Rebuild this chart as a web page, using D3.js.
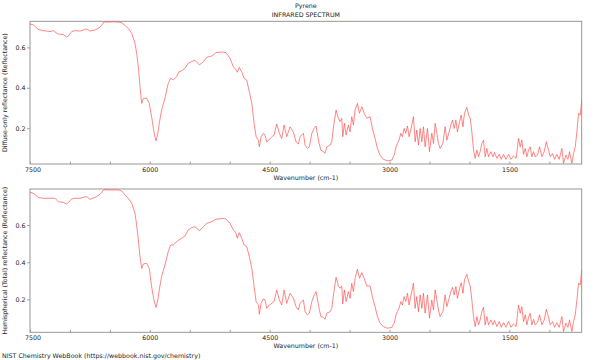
<!DOCTYPE html>
<html>
<head>
<meta charset="utf-8">
<script src="https://cdn.jsdelivr.net/npm/d3@7/dist/d3.min.js"></script>
<style>
  html, body { margin: 0; padding: 0; background: #fff; }
  svg { display: block; }
  text { font-family: "DejaVu Sans", sans-serif; fill: #222; }
</style>
</head>
<body>
<svg id="chart" width="600" height="360"></svg>
<script>
// ---- data ----
const title = "Pyrene";
const subtitle = "INFRARED SPECTRUM";
const xLabel = "Wavenumber (cm-1)";
const yLabelTop = "Diffuse-only reflectance (Reflectance)";
const yLabelBottom = "Hemispherical (Total) reflectance (Reflectance)";
const footer = "NIST Chemistry WebBook (https://webbook.nist.gov/chemistry)";

const xTickValues = [7500, 7000, 6500, 6000, 5500, 5000, 4500, 4000, 3500, 3000, 2500, 2000, 1500, 1000];
const xTickLabels = [7500, 6000, 4500, 3000, 1500];
const yTickLabels = [0.2, 0.4, 0.6];
const xDomain = [7500, 595];
const yDomainTop = [0.023, 0.729];
const yDomainBottom = [0.023, 0.794];

const wavenumber = [
7500,7458,7396,7333,7250,7208,7187,7146,7083,7041,7020,6978,6937,6874,6833,6790,6749,6686,6624,6574,
6520,6457,6395,6352,6311,6270,6227,6186,6165,6144,6123,6102,6081,6040,6007,5978,5949,5924,5903,5882,
5853,5811,5770,5740,5707,5665,5636,5603,5561,5520,5478,5436,5380,5330,5288,5226,5172,5101,5047,4997,
4955,4921,4905,4880,4850,4821,4787,4755,4724,4695,4670,4642,4629,4608,4579,4558,4537,4504,4474,4445,
4412,4379,4349,4320,4287,4245,4203,4170,4141,4120,4078,4057,4028,4003,3973,3944,3919,3890,3860,3828,
3807,3786,3744,3723,3702,3669,3640,3619,3598,3586,3565,3544,3515,3494,3473,3452,3431,3402,3377,3347,
3318,3285,3244,3210,3181,3152,3119,3077,3027,2972,2943,2918,2902,2881,2859,2839,2818,2797,2776,2755,
2730,2701,2680,2659,2638,2617,2596,2575,2555,2525,2500,2471,2450,2429,2408,2388,2367,2333,2304,2283,
2254,2233,2212,2191,2170,2150,2128,2103,2082,2062,2032,2011,1990,1970,1949,1928,1907,1886,1866,1845,
1824,1803,1782,1761,1731,1706,1686,1656,1627,1602,1573,1544,1510,1481,1448,1415,1386,1365,1344,1323,
1302,1281,1260,1240,1219,1198,1177,1148,1123,1093,1064,1039,1010,989,960,935,906,877,843,823,
793,768,747,718,697,676,655,634,613,595
];

const diffuseReflectance = [
0.716,0.711,0.689,0.683,0.678,0.683,0.676,0.666,0.663,0.651,0.656,0.678,0.683,0.681,0.686,0.691,0.681,0.686,0.699,0.726,
0.725,0.727,0.725,0.722,0.709,0.694,0.670,0.620,0.571,0.504,0.405,0.323,0.348,0.348,0.323,0.257,0.182,0.138,0.166,0.224,
0.290,0.348,0.422,0.447,0.439,0.455,0.479,0.484,0.496,0.521,0.529,0.537,0.513,0.529,0.551,0.557,0.574,0.577,0.574,0.546,
0.504,0.488,0.477,0.501,0.479,0.447,0.438,0.380,0.323,0.224,0.158,0.141,0.108,0.158,0.175,0.166,0.133,0.144,0.158,0.166,
0.221,0.175,0.149,0.216,0.158,0.207,0.180,0.133,0.122,0.158,0.175,0.117,0.100,0.108,0.175,0.199,0.211,0.141,0.092,0.084,
0.076,0.108,0.117,0.133,0.207,0.290,0.249,0.232,0.249,0.158,0.224,0.166,0.216,0.182,0.257,0.216,0.290,0.323,0.274,0.306,
0.274,0.249,0.257,0.191,0.150,0.100,0.067,0.046,0.039,0.042,0.067,0.108,0.125,0.141,0.175,0.158,0.199,0.175,0.211,0.158,
0.199,0.257,0.133,0.191,0.117,0.199,0.133,0.207,0.108,0.199,0.084,0.175,0.125,0.224,0.175,0.125,0.100,0.125,0.207,0.141,
0.182,0.216,0.240,0.199,0.240,0.182,0.224,0.265,0.207,0.274,0.303,0.265,0.249,0.182,0.092,0.051,0.092,0.059,0.084,0.125,
0.141,0.059,0.100,0.059,0.084,0.059,0.080,0.051,0.071,0.046,0.071,0.046,0.071,0.046,0.063,0.051,0.150,0.108,0.141,0.071,
0.100,0.059,0.092,0.108,0.059,0.084,0.059,0.067,0.108,0.059,0.084,0.133,0.092,0.059,0.075,0.046,0.071,0.046,0.100,0.026,
0.067,0.046,0.084,0.026,0.075,0.108,0.182,0.274,0.265,0.339
];

const totalReflectance = [
0.776,0.771,0.749,0.744,0.744,0.744,0.744,0.726,0.722,0.713,0.721,0.740,0.744,0.744,0.749,0.753,0.738,0.749,0.765,0.790,
0.789,0.789,0.789,0.783,0.762,0.744,0.717,0.663,0.600,0.520,0.430,0.367,0.391,0.394,0.367,0.269,0.197,0.156,0.188,0.251,
0.323,0.385,0.457,0.493,0.493,0.511,0.520,0.529,0.541,0.574,0.586,0.591,0.570,0.591,0.609,0.618,0.631,0.636,0.633,0.609,
0.574,0.556,0.529,0.559,0.529,0.493,0.484,0.430,0.367,0.269,0.188,0.170,0.120,0.179,0.203,0.197,0.152,0.170,0.179,0.188,
0.251,0.197,0.170,0.251,0.179,0.233,0.206,0.161,0.143,0.179,0.197,0.134,0.117,0.126,0.188,0.224,0.242,0.170,0.108,0.104,
0.093,0.126,0.134,0.152,0.224,0.319,0.272,0.260,0.272,0.176,0.251,0.188,0.242,0.206,0.287,0.242,0.314,0.362,0.314,0.344,
0.314,0.272,0.272,0.206,0.161,0.108,0.072,0.054,0.045,0.049,0.072,0.117,0.134,0.152,0.188,0.170,0.215,0.188,0.233,0.170,
0.224,0.287,0.152,0.215,0.134,0.224,0.152,0.233,0.126,0.224,0.099,0.197,0.143,0.251,0.197,0.143,0.108,0.134,0.224,0.161,
0.206,0.242,0.265,0.224,0.269,0.206,0.251,0.290,0.233,0.305,0.335,0.296,0.272,0.197,0.108,0.054,0.108,0.063,0.090,0.134,
0.158,0.063,0.108,0.063,0.090,0.063,0.086,0.054,0.081,0.050,0.075,0.050,0.081,0.050,0.068,0.054,0.170,0.126,0.161,0.081,
0.117,0.063,0.104,0.126,0.063,0.093,0.063,0.075,0.117,0.063,0.090,0.147,0.104,0.063,0.081,0.050,0.075,0.050,0.108,0.027,
0.072,0.050,0.090,0.027,0.081,0.117,0.197,0.287,0.278,0.359
];

// ---- drawing ----
const svg = d3.select("#chart");
const left = 30, right = 581.7;
const fontSize = 6.3;
const frameColor = "#8c8c8c";

const x = d3.scaleLinear().domain(xDomain).range([left, right]);
const cx = (left + right) / 2;

svg.append("text").attr("x", cx).attr("y", 8).attr("text-anchor", "middle")
  .attr("font-size", fontSize).text(title);
svg.append("text").attr("x", cx).attr("y", 17).attr("text-anchor", "middle")
  .attr("font-size", fontSize).text(subtitle);

function panel(top, bottom, yDomain, values, yLabel) {
  const y = d3.scaleLinear().domain(yDomain).range([bottom, top]);
  const g = svg.append("g");

  // x axis ticks (inward)
  const xAxis = d3.axisBottom(x).tickValues(xTickValues).tickSize(0).tickFormat("");
  const xa = g.append("g").attr("transform", `translate(0,${bottom})`).call(xAxis);
  xa.select(".domain").remove();
  xa.selectAll(".tick line").remove();
  xa.selectAll(".tick").append("line").attr("y1", 0).attr("y2", -2.5)
    .attr("stroke", frameColor).attr("stroke-width", 0.8);
  xa.selectAll(".tick").filter(d => xTickLabels.includes(d)).append("text")
    .attr("y", 8).attr("text-anchor", "middle").attr("font-size", fontSize)
    .attr("fill", "#222").attr("dx", d => d === 7500 ? 2.5 : 0)
    .text(d => d);

  // y axis
  const yAxis = d3.axisLeft(y).tickValues(yTickLabels).tickSize(3).tickPadding(1.5)
    .tickFormat(d3.format(".1f"));
  const ya = g.append("g").attr("transform", `translate(${left},0)`).call(yAxis);
  ya.select(".domain").remove();
  ya.selectAll(".tick line").attr("stroke", frameColor).attr("stroke-width", 0.8);
  ya.selectAll(".tick text").attr("font-size", fontSize).attr("fill", "#222")
    .attr("font-family", "DejaVu Sans, sans-serif");

  // frame
  g.append("rect").attr("x", left).attr("y", top).attr("width", right - left)
    .attr("height", bottom - top).attr("fill", "none")
    .attr("stroke", frameColor).attr("stroke-width", 0.9);

  // clip + line
  const clipId = "clip" + Math.round(top);
  svg.append("clipPath").attr("id", clipId).append("rect")
    .attr("x", left).attr("y", top - 1).attr("width", right - left).attr("height", bottom - top + 1);
  const line = d3.line().x((d, i) => x(wavenumber[i])).y(d => y(d));
  g.append("path").datum(values).attr("clip-path", `url(#${clipId})`)
    .attr("d", line).attr("fill", "none").attr("stroke", "#ff4646")
    .attr("stroke-width", 0.65).attr("stroke-linejoin", "round");

  // labels
  g.append("text").attr("x", cx).attr("y", bottom + 16).attr("text-anchor", "middle")
    .attr("font-size", fontSize).text(xLabel);
  g.append("text").attr("transform", `translate(7,${(top + bottom) / 2}) rotate(-90)`)
    .attr("text-anchor", "middle").attr("font-size", fontSize).text(yLabel);
}

panel(21.3, 164, yDomainTop, diffuseReflectance, yLabelTop);
panel(189, 332.3, yDomainBottom, totalReflectance, yLabelBottom);

svg.append("text").attr("x", 2).attr("y", 358).attr("font-size", fontSize).text(footer);
</script>
</body>
</html>
